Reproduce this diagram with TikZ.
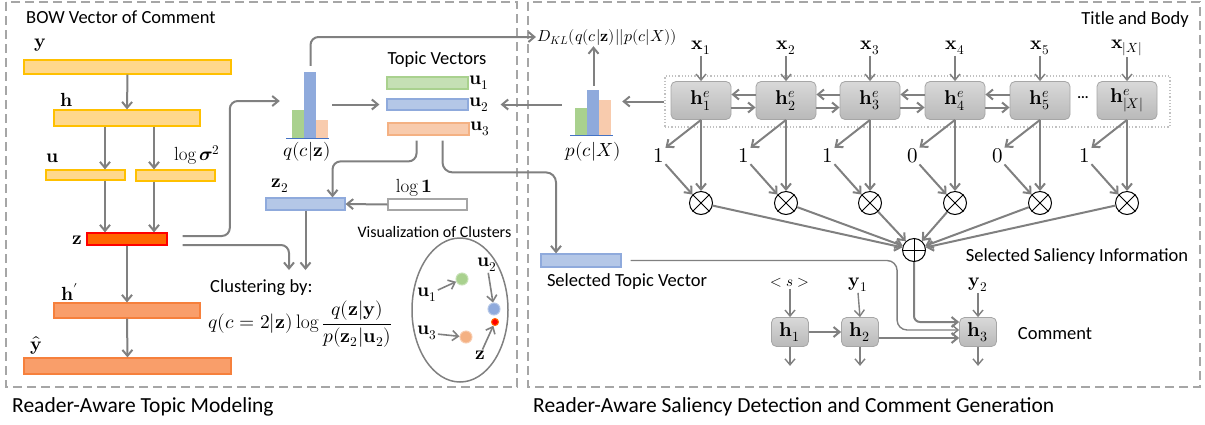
\documentclass[tikz,border=0pt]{standalone}
\usepackage{amsmath}
\usepackage{unicode-math}
\setmainfont{Carlito}
\setmathfont{Latin Modern Math}
\setmathrm{Latin Modern Roman}
\usetikzlibrary{calc,arrows.meta}

\definecolor{linegray}{RGB}{128,128,128}
\definecolor{boxgray}{RGB}{166,166,166}
\definecolor{bowfill}{RGB}{255,216,140}
\definecolor{bowline}{RGB}{255,192,0}
\definecolor{zfill}{RGB}{255,102,0}
\definecolor{zline}{RGB}{255,0,0}
\definecolor{recfill}{RGB}{249,158,106}
\definecolor{recline}{RGB}{246,128,60}
\definecolor{grnfill}{RGB}{197,224,180}
\definecolor{grnline}{RGB}{169,209,142}
\definecolor{blufill}{RGB}{180,199,231}
\definecolor{bluline}{RGB}{143,170,220}
\definecolor{orfill}{RGB}{248,203,173}
\definecolor{orline}{RGB}{244,177,131}
\definecolor{baseblue}{RGB}{68,114,196}

\begin{document}
\begin{tikzpicture}[x=1pt,y=-1pt,
  arr/.style={draw=linegray, line width=2pt, -{Straight Barb[length=6pt,width=10pt]}},
  thinarr/.style={arr, line width=1.4pt},
  bar/.style={draw, line width=1.2pt, inner sep=0pt},
  lbl/.style={font=\fontsize{18.5}{20}\selectfont, inner sep=1pt},
  biglbl/.style={font=\fontsize{21.5}{24}\selectfont, inner sep=1pt},
  mlbl/.style={font=\fontsize{19}{22}\selectfont, inner sep=1pt},
  gatelbl/.style={font=\fontsize{21}{24}\selectfont, inner sep=1pt},
  ench/.style={draw=boxgray, line width=0.8pt, rounded corners=5pt, top color=gray!30, bottom color=gray!55,
    minimum width=60pt, minimum height=38pt, inner sep=0pt, font=\fontsize{20}{22}\selectfont},
  dech/.style={ench, minimum width=37pt, minimum height=29pt},
  op/.style={circle, draw, line width=1pt, minimum size=23pt, inner sep=0pt},
  framebox/.style={draw=boxgray, line width=1.5pt, dash pattern=on 9pt off 5pt},
]
\useasboundingbox (0,0) rectangle (1205,424);

% frames
\draw[framebox] (6,2) rectangle (517,387);
\draw[framebox] (528,2) rectangle (1200,387);
\node[lbl, anchor=west] at (25,17) {BOW Vector of Comment};
\node[lbl, anchor=east] at (1190,20) {Title and Body};
\node[biglbl, anchor=west] at (11,407) {Reader-Aware Topic Modeling};
\node[biglbl, anchor=west] at (532,407) {Reader-Aware Saliency Detection and Comment Generation};

% topic model (VAE)
\node[bar, fill=bowfill, draw=bowline, minimum width=207pt, minimum height=14pt] (ybar) at (127.5,67) {};
\node[bar, fill=bowfill, draw=bowline, minimum width=146pt, minimum height=16pt] (hbar) at (127,118) {};
\node[bar, fill=bowfill, draw=bowline, minimum width=79pt, minimum height=10pt] (ubar) at (85.5,175) {};
\node[bar, fill=bowfill, draw=bowline, minimum width=79pt, minimum height=11pt] (sbar) at (175.5,175.5) {};
\node[bar, fill=zfill, draw=zline, minimum width=80pt, minimum height=12pt] (zbar) at (127,239) {};
\node[bar, fill=recfill, draw=recline, minimum width=146pt, minimum height=15pt] (hrbar) at (127,310.5) {};
\node[bar, fill=recfill, draw=recline, minimum width=207pt, minimum height=16pt] (yhbar) at (127.5,366) {};

\node[mlbl] at (40,45) {$\symbf{y}$};
\node[mlbl] at (67,100) {$\symbf{h}$};
\node[mlbl] at (53,158) {$\symbf{u}$};
\node[mlbl] at (197,155) {$\log\symbf{\sigma}^2$};
\node[mlbl] at (77,240) {$\symbf{z}$};
\node[mlbl] at (70,292) {$\symbf{h}'$};
\node[mlbl] at (36,345) {$\hat{\symbf{y}}$};

\coordinate (cu) at (105,0);
\coordinate (cs) at (154,0);
\draw[arr] (ybar.south) -- (hbar.north);
\draw[arr] (hbar.south -| cu) -- (ubar.north -| cu);
\draw[arr] (hbar.south -| cs) -- (sbar.north -| cs);
\draw[arr] (ubar.south -| cu) -- (zbar.north -| cu);
\draw[arr] (sbar.south -| cs) -- (zbar.north -| cs);
\draw[arr] (zbar.south) -- (hrbar.north);
\draw[arr] (hrbar.south) -- (yhbar.north);

% q(c|z)
\fill[grnline] (292,110) rectangle (304,138);
\fill[bluline] (304,72) rectangle (316,138);
\fill[orfill] (316,120) rectangle (328,138);
\draw[baseblue, line width=1pt] (286,138) -- (329,138);
\node[minimum width=43pt, minimum height=66pt, inner sep=0pt] (qhist) at (307.5,105) {};
\node[mlbl] at (307,152) {$q(c|\symbf{z})$};

% topic vectors
\node[lbl] at (437,60) {Topic Vectors};
\node[bar, fill=grnfill, draw=grnline, minimum width=81pt, minimum height=12pt] (u1) at (427.5,83) {};
\node[bar, fill=blufill, draw=bluline, minimum width=81pt, minimum height=11pt] (u2) at (427.5,104.5) {};
\node[bar, fill=orfill, draw=orline, minimum width=81pt, minimum height=12pt] (u3) at (428.5,129) {};
\node[mlbl, anchor=west] at (u1.east) {$\symbf{u}_1$};
\node[mlbl, anchor=west] at (u2.east) {$\symbf{u}_2$};
\node[mlbl, anchor=west] at (u3.east) {$\symbf{u}_3$};

\node[bar, fill=blufill, draw=bluline, minimum width=79pt, minimum height=12pt] (z2) at (305.5,204) {};
\node[bar, fill=white, draw=boxgray, minimum width=79pt, minimum height=11pt] (logone) at (427.5,204.5) {};
\node[mlbl] at (280,186) {$\symbf{z}_2$};
\node[mlbl] at (414,188) {$\log\symbf{1}$};

\node[lbl, anchor=west] (clus) at (209,288) {Clustering by:};
\node[font=\fontsize{19.5}{22}\selectfont, inner sep=1pt, anchor=west] at (207,324) {$q(c=2|\symbf{z})\log\dfrac{q(\symbf{z}|\symbf{y})}{p(\symbf{z}_2|\symbf{u}_2)}$};
\coordinate (clusin) at (297,270);

\node[bar, fill=blufill, draw=bluline, minimum width=80pt, minimum height=13pt] (sel) at (581,260.5) {};
\node[lbl] at (627,282) {Selected Topic Vector};

\draw[arr, rounded corners=8pt] ($(zbar.east)+(15,-3)$) -| ($(qhist.west)+(-56,-4)$) -- ($(qhist.west)+(-6,-4)$);
\draw[arr, rounded corners=8pt] ($(zbar.east)+(15,6)$) -| ($(clusin)+(-8,0)$);
\draw[arr] (z2.south) -- (z2.south |- clusin);
\draw[arr] (logone.west) -- (z2.east);
\draw[arr, shorten <=3pt, shorten >=7pt] (qhist.east |- u2.west) -- (u2.west);
\draw[arr, rounded corners=8pt] ($(u3.south)+(-12,5)$) |- ($(z2.north)+(27,-36)$) -- ($(z2.north)+(27,0)$);
\draw[arr, rounded corners=10pt] ($(u3.south)+(14,5)$) |- ($(sel.north)+(-25,-81)$) -- ($(sel.north)+(-25,0)$);

% clusters
\node[font=\fontsize{16}{18}\selectfont, inner sep=1pt] at (434.5,232) {Visualization of Clusters};
\draw[linegray, line width=1.5pt] (460,310) ellipse (48pt and 72pt);
\node[circle, fill=grnline, draw=grnfill, line width=1pt, minimum size=12pt, inner sep=0pt] (dgrn) at (462,279) {};
\node[circle, fill=bluline, draw=blufill, line width=1pt, minimum size=12pt, inner sep=0pt] (dblu) at (494,309) {};
\node[circle, fill=orline, draw=orfill, line width=1pt, minimum size=12pt, inner sep=0pt] (dora) at (466,337) {};
\node[circle, fill=zline, draw=zfill, line width=1pt, minimum size=7pt, inner sep=0pt] (dred) at (495,322) {};
\node[mlbl] (cu1) at (427,295) {$\symbf{u}_1$};
\node[mlbl] (cu2) at (487,265) {$\symbf{u}_2$};
\node[mlbl] (cu3) at (427,333) {$\symbf{u}_3$};
\node[mlbl] (cz) at (480,355) {$\symbf{z}$};
\draw[arr, line width=1.6pt] (cu1) -- (dgrn);
\draw[arr, line width=1.6pt] (cu2) -- (dblu);
\draw[arr, line width=1.6pt] (cu3) -- (dora);
\draw[arr, line width=1.6pt] (cz) -- (dred);

% KL term and p(c|X)
\node[font=\fontsize{16}{18}\selectfont, inner sep=1pt] (dkl) at (607,37) {$D_{KL}(q(c|\symbf{z})||p(c|X))$};
\fill[grnline] (575,108) rectangle (587,135);
\fill[bluline] (587,90) rectangle (599,135);
\fill[orfill] (599,100) rectangle (611,135);
\draw[baseblue, line width=1pt] (570,135) -- (613,135);
\node[minimum width=43pt, minimum height=45pt, inner sep=0pt] (phist) at (591.5,112.5) {};
\node[mlbl] at (593,152) {$p(c|X)$};

\draw[arr, rounded corners=8pt] ($(qhist.north)+(3,-6)$) |- (dkl.west);
\draw[arr, shorten <=4pt] ($(phist.north)+(2,0)$) -- ($(phist.north |- dkl.south)+(2,0)$);
\draw[arr, shorten <=8pt, shorten >=32pt] (phist.west |- u2.east) -- (u2.east);

% encoder
\node[draw=boxgray!70, dotted, line width=1.2pt, minimum width=505pt, minimum height=51pt, inner sep=0pt] (enc) at (917.5,101.5) {};
\node[ench] (e1) at (701,100.5) {$\symbf{h}^e_1$};
\node[ench] (e2) at (786,100.5) {$\symbf{h}^e_2$};
\node[ench] (e3) at (870,100.5) {$\symbf{h}^e_3$};
\node[ench] (e4) at (955,100.5) {$\symbf{h}^e_4$};
\node[ench] (e5) at (1040,100.5) {$\symbf{h}^e_5$};
\node[ench] (e6) at (1127,100.5) {$\symbf{h}^e_{|X|}$};
\node[font=\bfseries\fontsize{14}{16}\selectfont, inner sep=0pt] at (1083,98) {...};

\node[mlbl] (x1) at (701,48) {$\symbf{x}_1$};
\node[mlbl] (x2) at (786,48) {$\symbf{x}_2$};
\node[mlbl] (x3) at (870,48) {$\symbf{x}_3$};
\node[mlbl] (x4) at (955,48) {$\symbf{x}_4$};
\node[mlbl] (x5) at (1040,48) {$\symbf{x}_5$};
\node[mlbl] (x6) at (1127,48) {$\symbf{x}_{|X|}$};
\draw[thinarr] (x1.south) -- (e1.north);
\draw[thinarr] (x2.south) -- (e2.north);
\draw[thinarr] (x3.south) -- (e3.north);
\draw[thinarr] (x4.south) -- (e4.north);
\draw[thinarr] (x5.south) -- (e5.north);
\draw[thinarr] (x6.south) -- (e6.north);

\draw[arr] ([yshift=6pt]e2.west) -- ([yshift=6pt]e1.east);
\draw[arr] ([yshift=-7pt]e1.east) -- ([yshift=-7pt]e2.west);
\draw[arr] ([yshift=6pt]e3.west) -- ([yshift=6pt]e2.east);
\draw[arr] ([yshift=-7pt]e2.east) -- ([yshift=-7pt]e3.west);
\draw[arr] ([yshift=6pt]e4.west) -- ([yshift=6pt]e3.east);
\draw[arr] ([yshift=-7pt]e3.east) -- ([yshift=-7pt]e4.west);
\draw[arr] ([yshift=6pt]e5.west) -- ([yshift=6pt]e4.east);
\draw[arr] ([yshift=-7pt]e4.east) -- ([yshift=-7pt]e5.west);

\draw[arr, shorten >=9pt] (enc.west) -- (phist.east |- enc.west);

% saliency gates
\node[gatelbl] (g1) at (659,156) {$1$};
\node[gatelbl] (g2) at (744,156) {$1$};
\node[gatelbl] (g3) at (828,156) {$1$};
\node[gatelbl] (g4) at (913,156) {$0$};
\node[gatelbl] (g5) at (998,156) {$0$};
\node[gatelbl] (g6) at (1085,156) {$1$};
\node[op] (m1) at (701,203) {};
\node[op] (m2) at (786,203) {};
\node[op] (m3) at (870,203) {};
\node[op] (m4) at (955,203) {};
\node[op] (m5) at (1040,203) {};
\node[op] (m6) at (1127,203) {};
\draw[line width=1pt] (m1.north west) -- (m1.south east) (m1.north east) -- (m1.south west);
\draw[line width=1pt] (m2.north west) -- (m2.south east) (m2.north east) -- (m2.south west);
\draw[line width=1pt] (m3.north west) -- (m3.south east) (m3.north east) -- (m3.south west);
\draw[line width=1pt] (m4.north west) -- (m4.south east) (m4.north east) -- (m4.south west);
\draw[line width=1pt] (m5.north west) -- (m5.south east) (m5.north east) -- (m5.south west);
\draw[line width=1pt] (m6.north west) -- (m6.south east) (m6.north east) -- (m6.south west);

\draw[arr] (e1.south) -- (g1.north east);
\draw[arr] (e2.south) -- (g2.north east);
\draw[arr] (e3.south) -- (g3.north east);
\draw[arr] (e4.south) -- (g4.north east);
\draw[arr] (e5.south) -- (g5.north east);
\draw[arr] (e6.south) -- (g6.north east);
\draw[arr] (g1.south east) -- (m1.north west);
\draw[arr] (g2.south east) -- (m2.north west);
\draw[arr] (g3.south east) -- (m3.north west);
\draw[arr] (g4.south east) -- (m4.north west);
\draw[arr] (g5.south east) -- (m5.north west);
\draw[arr] (g6.south east) -- (m6.north west);
\draw[arr] (e1.south) -- (m1.north);
\draw[arr] (e2.south) -- (m2.north);
\draw[arr] (e3.south) -- (m3.north);
\draw[arr] (e4.south) -- (m4.north);
\draw[arr] (e5.south) -- (m5.north);
\draw[arr] (e6.south) -- (m6.north);

\node[op] (plus) at (914,250) {};
\draw[line width=1pt] (plus.north) -- (plus.south) (plus.west) -- (plus.east);
\draw[arr] (m1) -- (plus);
\draw[arr] (m2) -- (plus);
\draw[arr] (m3) -- (plus);
\draw[arr] (m4) -- (plus);
\draw[arr] (m5) -- (plus);
\draw[arr] (m6) -- (plus);
\node[lbl] at (1077,257) {Selected Saliency Information};

% decoder
\node[dech] (d1) at (790,332) {$\symbf{h}_1$};
\node[dech] (d2) at (860,332) {$\symbf{h}_2$};
\node[dech] (d3) at (978,332) {$\symbf{h}_3$};
\node[font=\fontsize{15}{18}\selectfont, inner sep=1pt] (s0) at (790,283) {$<s>$};
\node[mlbl] (yy1) at (858,285) {$\symbf{y}_1$};
\node[mlbl] (yy2) at (978,285) {$\symbf{y}_2$};
\node[lbl] at (1055,334) {Comment};
\draw[thinarr] (s0.south) -- (d1.north);
\draw[thinarr] (yy1.south) -- (d2.north);
\draw[thinarr] (yy2.south) -- (d3.north);
\draw[arr] (d1.east) -- (d2.west);
\draw[arr] ($(d2.east)+(0,6)$) -- ($(d3.west)+(0,6)$);
\draw[thinarr] (d1.south) -- ($(d1.south)+(0,19)$);
\draw[thinarr] (d2.south) -- ($(d2.south)+(0,19)$);
\draw[thinarr] (d3.south) -- ($(d3.south)+(0,19)$);
\draw[arr, rounded corners=6pt] (plus.south) |- ($(d3.west)+(0,-10)$);
\draw[thinarr, rounded corners=10pt] ($(sel.east)+(9,0)$) -| ($(d3.west)+(-62,-2)$) -- ($(d3.west)+(0,-2)$);

\end{tikzpicture}
\end{document}
